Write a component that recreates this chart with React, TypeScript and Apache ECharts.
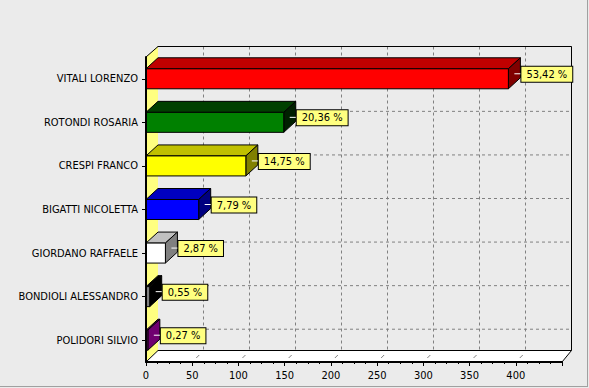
import React, { useEffect, useRef } from "react";
import * as echarts from "echarts";

// ---- data ----
const CATEGORIES = [
  "VITALI LORENZO",
  "ROTONDI ROSARIA",
  "CRESPI FRANCO",
  "BIGATTI NICOLETTA",
  "GIORDANO RAFFAELE",
  "BONDIOLI ALESSANDRO",
  "POLIDORI SILVIO",
];
const VOTES = [392, 149, 108, 57, 21, 4, 2];
const PERCENT_LABELS = ["53,42 %", "20,36 %", "14,75 %", "7,79 %", "2,87 %", "0,55 %", "0,27 %"];
const FRONT_COLORS = ["#FF0000", "#008000", "#FFFF00", "#0000FF", "#FFFFFF", "#808080", "#800080"];
const TOP_COLORS = ["#C00000", "#004000", "#C0C000", "#0000C0", "#C0C0C0", "#000000", "#600060"];
const SIDE_COLORS = ["#800000", "#002000", "#808000", "#000080", "#808080", "#000000", "#700070"];
const X_MIN = 0;
const X_MAX = 450;
const X_INTERVAL = 50;
const FLOOR_TICKS = [50, 100, 150, 200, 250, 300, 350, 400];

// ---- layout (style) ----
const FONT = "'DejaVu Sans Condensed', 'DejaVu Sans', sans-serif";
const L = 146;
const T = 57;
const W = 416;
const H = 305;
const DX = 12;
const DY = 11;
const BACK_LEFT = 158;
const BACK_TOP = 46.5;
const BACK_RIGHT = 571.5;
const BACK_BOTTOM = 350.5;
const BG = "#EBEBEB";

export default function App() {
  const ref = useRef<HTMLDivElement>(null);

  useEffect(() => {
    if (!ref.current) return;
    const chart = echarts.init(ref.current, undefined, { renderer: "svg" });

    const barData = VOTES.map((v, i) => [v, i]);
    const floorData = FLOOR_TICKS.map((v) => [v, 0]);

    const option: any = {
      animation: false,
      backgroundColor: BG,
      textStyle: { fontFamily: FONT },
      grid: [
        { left: L, top: T, width: W, height: H, outerBoundsMode: "none", containLabel: false },
        {
          left: BACK_LEFT - 0.5,
          top: BACK_TOP,
          width: BACK_RIGHT - BACK_LEFT + 0.5,
          height: BACK_BOTTOM - BACK_TOP,
          outerBoundsMode: "none",
          containLabel: false,
        },
      ],
      xAxis: [
        {
          type: "value",
          gridIndex: 0,
          min: X_MIN,
          max: X_MAX,
          interval: X_INTERVAL,
          z: 10,
          axisLine: { show: true, lineStyle: { color: "#000", width: 2 } },
          axisTick: { show: true, length: 4, lineStyle: { color: "#000", width: 1 } },
          minorTick: { show: true, splitNumber: 4, length: 2, lineStyle: { color: "#000", width: 1 } },
          axisLabel: {
            show: true,
            color: "#000",
            fontSize: 11,
            fontFamily: FONT,
            margin: 8,
            formatter: (v: number) => (v === X_MAX ? "" : String(v)),
          },
          splitLine: { show: false },
        },
        {
          type: "value",
          gridIndex: 1,
          min: X_MIN,
          max: X_MAX,
          interval: X_INTERVAL,
          z: 0,
          axisLine: { show: false },
          axisTick: { show: false },
          axisLabel: { show: false },
          splitLine: { show: true, lineStyle: { color: "#808080", width: 1, type: [3, 3] } },
        },
      ],
      yAxis: [
        {
          type: "category",
          gridIndex: 0,
          data: CATEGORIES,
          inverse: true,
          z: 10,
          axisLine: { show: true, lineStyle: { color: "#000", width: 2 } },
          axisTick: { show: true, alignWithLabel: true, length: 4, lineStyle: { color: "#000" } },
          axisLabel: { show: true, color: "#000", fontSize: 11, fontFamily: FONT, margin: 8 },
          splitLine: { show: false },
        },
        {
          type: "value",
          gridIndex: 1,
          show: false,
          splitLine: { show: false },
        },
      ],
      graphic: [
        {
          type: "polygon",
          z: 1,
          silent: true,
          shape: {
            points: [
              [L, T],
              [BACK_LEFT, BACK_TOP],
              [BACK_LEFT, BACK_BOTTOM],
              [L, T + H],
            ],
          },
          style: { fill: "#FFFF80", stroke: null },
        },
        {
          type: "line",
          z: 1,
          silent: true,
          shape: { x1: L, y1: T, x2: BACK_LEFT, y2: BACK_TOP },
          style: { stroke: "#000", lineWidth: 1 },
        },
        {
          type: "polygon",
          z: 1,
          silent: true,
          shape: {
            points: [
              [L, T + H],
              [BACK_LEFT, BACK_BOTTOM],
              [BACK_RIGHT, BACK_BOTTOM],
              [L + W, T + H],
            ],
          },
          style: { fill: "#FFFFFF", stroke: "#000", lineWidth: 1 },
        },
        {
          type: "polyline",
          z: 1,
          silent: true,
          shape: {
            points: [
              [BACK_LEFT, BACK_TOP],
              [BACK_RIGHT, BACK_TOP],
              [BACK_RIGHT, BACK_BOTTOM],
            ],
          },
          style: { fill: null, stroke: "#000", lineWidth: 1 },
        },
        {
          type: "line",
          z: 100,
          silent: true,
          shape: { x1: 587.5, y1: 0, x2: 587.5, y2: 387 },
          style: { stroke: "#A0A0A0", lineWidth: 1 },
        },
        {
          type: "line",
          z: 100,
          silent: true,
          shape: { x1: 0, y1: 386.5, x2: 588, y2: 386.5 },
          style: { stroke: "#A0A0A0", lineWidth: 1 },
        },
      ],
      series: [
        {
          type: "custom",
          name: "backlines",
          xAxisIndex: 0,
          yAxisIndex: 0,
          z: 2,
          silent: true,
          clip: false,
          data: barData,
          encode: { x: 0, y: 1 },
          renderItem: (params: any, api: any) => {
            const p = api.coord([0, api.value(1)]);
            const y = p[1] - DY;
            return {
              type: "line",
              shape: { x1: BACK_LEFT, y1: y, x2: BACK_RIGHT, y2: y },
              style: { stroke: "#808080", lineWidth: 1, lineDash: [3, 3] },
            };
          },
        },
        {
          type: "custom",
          name: "floorlines",
          xAxisIndex: 0,
          yAxisIndex: 0,
          z: 2,
          silent: true,
          clip: false,
          data: floorData,
          encode: { x: 0 },
          renderItem: (params: any, api: any) => {
            const x = api.coord([api.value(0), 0])[0];
            const yb = T + H;
            return {
              type: "line",
              shape: { x1: x + 4, y1: yb - 4, x2: x + 7, y2: yb - 7 },
              style: { stroke: "#808080", lineWidth: 1 },
            };
          },
        },
        {
          type: "custom",
          name: "votes",
          xAxisIndex: 0,
          yAxisIndex: 0,
          z: 3,
          clip: false,
          data: barData,
          encode: { x: 0, y: 1 },
          renderItem: (params: any, api: any) => {
            const idx = params.dataIndex;
            const v = api.value(0);
            const c = api.value(1);
            const p0 = api.coord([0, c]);
            const p1 = api.coord([v, c]);
            const x0 = p0[0];
            const x1 = p1[0];
            const cy = p0[1];
            const half = 10;
            const top = cy - half;
            const bot = cy + half;
            return {
              type: "group",
              children: [
                {
                  type: "polygon",
                  shape: {
                    points: [
                      [x0, top],
                      [x1, top],
                      [x1 + DX, top - DY],
                      [x0 + DX, top - DY],
                    ],
                  },
                  style: { fill: TOP_COLORS[idx], stroke: "#000", lineWidth: 1 },
                },
                {
                  type: "polygon",
                  shape: {
                    points: [
                      [x1, top],
                      [x1 + DX, top - DY],
                      [x1 + DX, bot - DY],
                      [x1, bot],
                    ],
                  },
                  style: { fill: SIDE_COLORS[idx], stroke: "#000", lineWidth: 1 },
                },
                {
                  type: "rect",
                  shape: { x: x0, y: top, width: Math.max(x1 - x0, 0), height: bot - top },
                  style: { fill: FRONT_COLORS[idx], stroke: "#000", lineWidth: 1 },
                },
                {
                  type: "line",
                  shape: { x1: x1 + DX / 2, y1: cy - 5, x2: x1 + 13, y2: cy - 5 },
                  style: { stroke: "#FFFFFF", lineWidth: 1 },
                },
                {
                  type: "text",
                  x: x1 + 13,
                  y: cy - 4.5,
                  style: {
                    text: PERCENT_LABELS[idx],
                    fill: "#000",
                    fontSize: 11,
                    fontFamily: FONT,
                    align: "left",
                    verticalAlign: "middle",
                    lineHeight: 13,
                    backgroundColor: "#FFFF80",
                    borderColor: "#000",
                    borderWidth: 1,
                    padding: [1, 5, 1, 5],
                  },
                },
              ],
            };
          },
        },
      ],
    };

    chart.setOption(option);
    return () => {
      chart.dispose();
    };
  }, []);

  return (
    <div
      ref={ref}
      style={{ position: "fixed", left: 0, top: 0, width: 589, height: 388 }}
    />
  );
}
